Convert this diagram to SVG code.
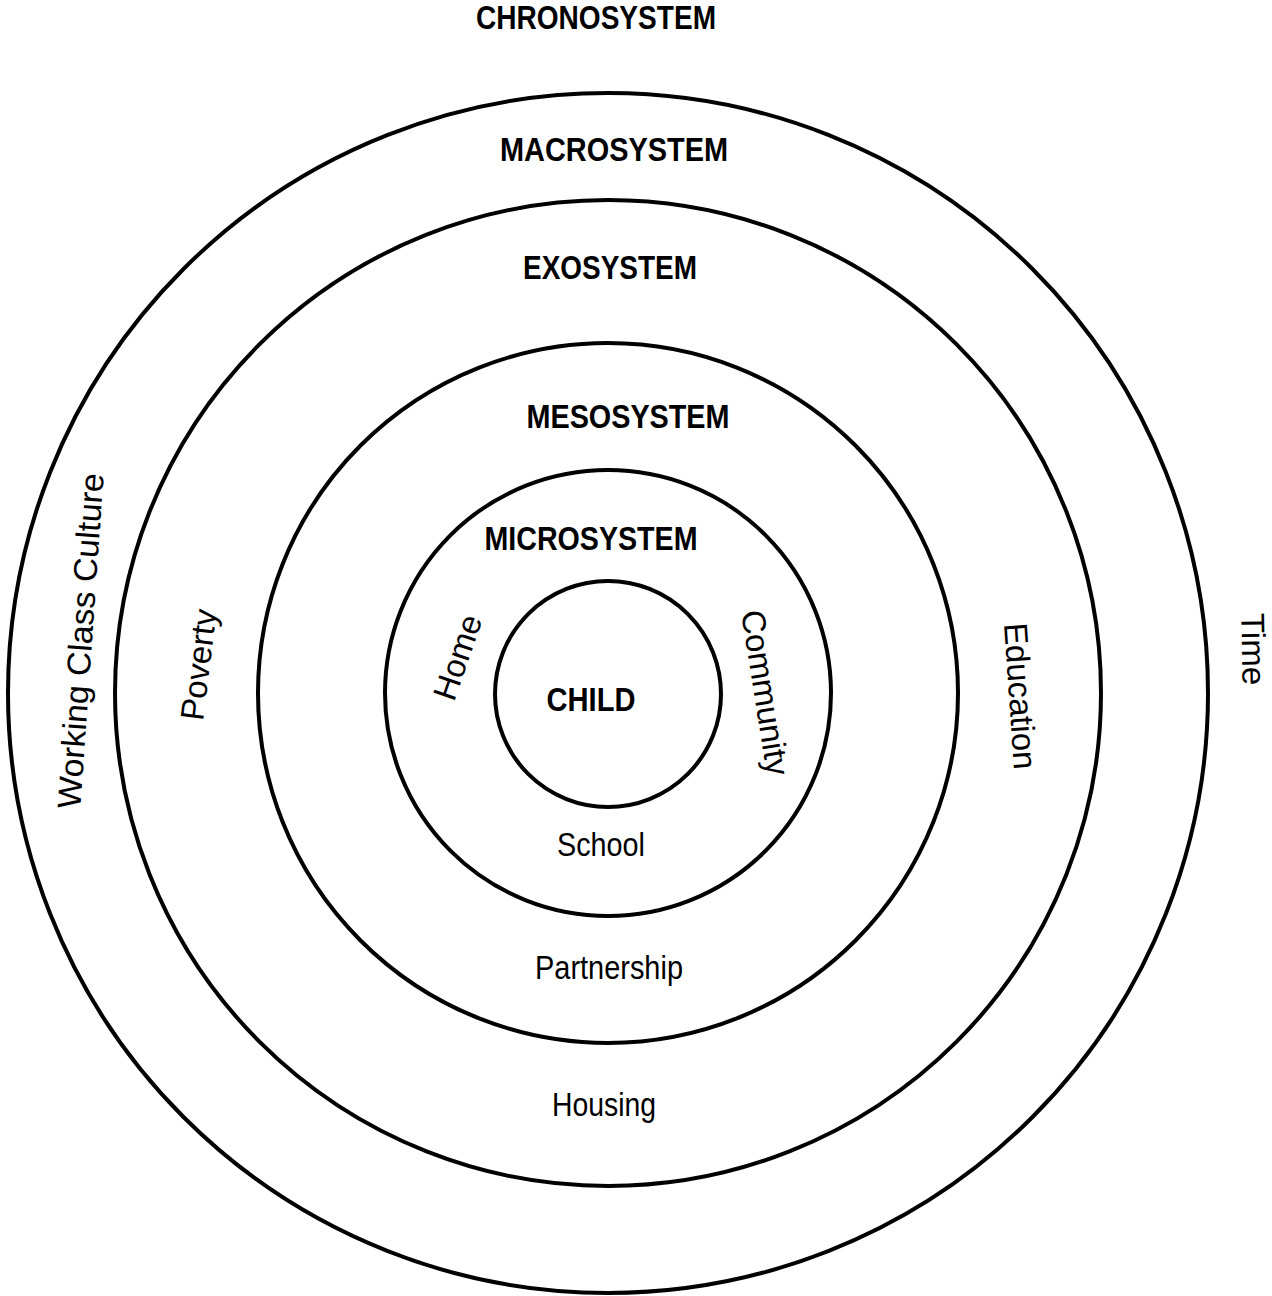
<svg xmlns="http://www.w3.org/2000/svg" width="1272" height="1296" viewBox="0 0 1272 1296">
<style>
.ring{fill:none;stroke:#000;stroke-width:4}
.b{font-family:"Liberation Sans",Arial,sans-serif;font-weight:bold;fill:#000;text-anchor:middle;font-size:33px}
.r{font-family:"Liberation Sans",Arial,sans-serif;fill:#000;text-anchor:middle;font-size:33px}
</style>
<rect width="1272" height="1296" fill="#fff"/>
<g id="chronosystem">
<text class="b" x="596" y="29" textLength="240" lengthAdjust="spacingAndGlyphs">CHRONOSYSTEM</text>
<text class="r" transform="translate(1254,649) rotate(89)" y="12">Time</text>
</g>
<g id="macrosystem">
<circle class="ring" cx="608" cy="693" r="600"/>
<text class="b" x="614" y="161" textLength="228" lengthAdjust="spacingAndGlyphs">MACROSYSTEM</text>
<text class="r" transform="translate(83,641) rotate(-86)" y="9" textLength="336" lengthAdjust="spacingAndGlyphs">Working Class Culture</text>
<text class="r" x="604" y="1116" textLength="104" lengthAdjust="spacingAndGlyphs">Housing</text>
</g>
<g id="exosystem">
<circle class="ring" cx="608" cy="693" r="493"/>
<text class="b" x="610" y="279" textLength="174" lengthAdjust="spacingAndGlyphs">EXOSYSTEM</text>
<text class="r" transform="translate(201,665) rotate(-83)" y="9">Poverty</text>
<text class="r" transform="translate(1021,696) rotate(86)" y="12">Education</text>
</g>
<g id="mesosystem">
<circle class="ring" cx="608" cy="693" r="350"/>
<text class="b" x="628" y="428" textLength="203" lengthAdjust="spacingAndGlyphs">MESOSYSTEM</text>
<text class="r" x="609" y="979" textLength="148" lengthAdjust="spacingAndGlyphs">Partnership</text>
</g>
<g id="microsystem">
<circle class="ring" cx="608" cy="693" r="223"/>
<text class="b" x="591" y="550" textLength="213" lengthAdjust="spacingAndGlyphs">MICROSYSTEM</text>
<text class="r" transform="translate(457,657) rotate(-71)" y="12">Home</text>
<text class="r" transform="translate(763,693) rotate(81)" y="9">Community</text>
<text class="r" x="601" y="856" textLength="88" lengthAdjust="spacingAndGlyphs">School</text>
</g>
<g id="child">
<circle class="ring" cx="608" cy="694" r="113"/>
<text class="b" x="591" y="711" textLength="89" lengthAdjust="spacingAndGlyphs">CHILD</text>
</g>
<g id="connectors"/>
</svg>
